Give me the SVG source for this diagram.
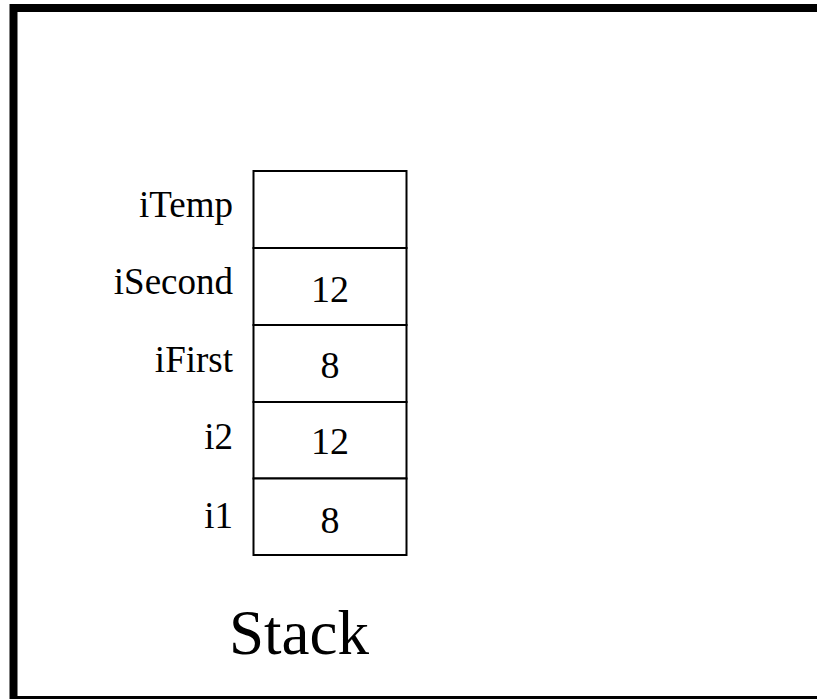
<svg xmlns="http://www.w3.org/2000/svg" width="817" height="699" viewBox="0 0 817 699">
<style>
.frame{fill:none;stroke:#000;stroke-width:8}
.cell{fill:#fff;stroke:#000;stroke-width:2}
.lbl{font-family:"Liberation Serif","Times New Roman",serif;font-size:37px;fill:#000;text-anchor:end}
.val{font-family:"Liberation Serif","Times New Roman",serif;font-size:38px;fill:#000;text-anchor:middle}
.title{font-family:"Liberation Serif","Times New Roman",serif;font-size:63px;fill:#000;text-anchor:middle}
</style>
<rect class="frame" x="13.5" y="8" width="820" height="692"/>
<g id="stack">
<g id="cell-iTemp"><rect class="cell" x="253.5" y="171" width="153" height="77"/><text class="lbl" x="233" y="217">iTemp</text></g>
<g id="cell-iSecond"><rect class="cell" x="253.5" y="248" width="153" height="77"/><text class="lbl" x="233" y="294">iSecond</text><text class="val" x="330" y="302">12</text></g>
<g id="cell-iFirst"><rect class="cell" x="253.5" y="325" width="153" height="77"/><text class="lbl" x="233" y="372">iFirst</text><text class="val" x="330" y="378">8</text></g>
<g id="cell-i2"><rect class="cell" x="253.5" y="402" width="153" height="76.5"/><text class="lbl" x="233" y="449">i2</text><text class="val" x="330" y="454">12</text></g>
<g id="cell-i1"><rect class="cell" x="253.5" y="478.5" width="153" height="76.5"/><text class="lbl" x="233" y="528">i1</text><text class="val" x="330" y="533">8</text></g>
</g>
<g id="connectors"/>
<text class="title" x="299" y="654">Stack</text>
</svg>
